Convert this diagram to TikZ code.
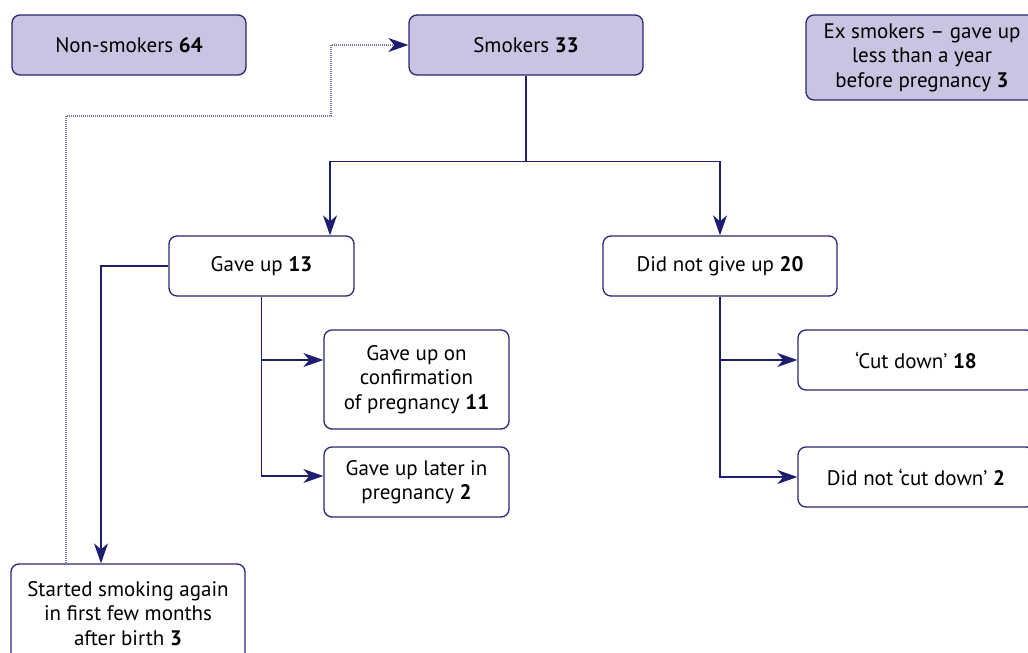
\documentclass[tikz,border=0pt]{standalone}
\usepackage{fontspec}
\setmainfont{PT Sans}
\usetikzlibrary{arrows.meta,calc}
\definecolor{navy}{RGB}{30,30,110}
\definecolor{boxline}{RGB}{40,40,115}
\definecolor{lav}{RGB}{201,196,225}
\definecolor{dotc}{RGB}{120,120,175}
\tikzset{
  box/.style={draw=boxline,line width=1.3pt,rounded corners=8pt,align=center,
    font=\fontsize{21}{24.5}\selectfont,inner sep=0pt},
  fillbox/.style={box,fill=lav},
  arr/.style={draw=navy,line width=1.3pt,-{Stealth[length=20pt,width=14pt,inset=6pt]}},
  dotarr/.style={draw=dotc,line width=1.1pt,dash pattern=on 1pt off 1pt,-{Stealth[length=20pt,width=14pt,inset=6pt,color=navy,fill=navy]}}
}
\begin{document}
\begin{tikzpicture}[x=1pt,y=-1pt]
\useasboundingbox (0,0) rectangle (1028,653);
\clip (0,0) rectangle (1028,653);
\fill[white] (0,0) rectangle (1028,653);
\node[fillbox,minimum width=234pt,minimum height=60pt] (nons) at (129,45) {Non-smokers \textbf{64}};
\node[fillbox,minimum width=234pt,minimum height=60pt] (smk) at (526,45) {Smokers \textbf{33}};
\node[fillbox,minimum width=232pt,minimum height=85pt] (ex) at (922,57.5) {Ex smokers – gave up\\less than a year\\before pregnancy \textbf{3}};
\node[box,minimum width=185pt,minimum height=60pt] (gu) at (261.5,266) {Gave up \textbf{13}};
\node[box,minimum width=234pt,minimum height=60pt] (dngu) at (720,266) {Did not give up \textbf{20}};
\node[box,minimum width=185pt,minimum height=99pt] (conf) at (416.5,379.5) {Gave up on\\confirmation\\of pregnancy \textbf{11}};
\node[box,minimum width=185pt,minimum height=70pt] (later) at (416.5,482) {Gave up later in\\pregnancy \textbf{2}};
\node[box,minimum width=236pt,minimum height=60pt] (cut) at (916,360) {‘Cut down’ \textbf{18}};
\node[box,minimum width=236pt,minimum height=60pt] (notcut) at (916,477) {Did not ‘cut down’ \textbf{2}};
\node[box,minimum width=234pt,minimum height=99pt] (again) at (128,613.5) {Started smoking again\\in first few months\\after birth \textbf{3}};
\coordinate (db) at (331,116);
\draw[arr] (smk.south) -- ++(0,86) -| ([xshift=68.5pt]gu.north);
\draw[arr] (smk.south) -- ++(0,86) -| (dngu.north);
\draw[arr] (gu.south) |- ([yshift=19.5pt]conf.west);
\draw[arr] (gu.south) |- ([yshift=6pt]later.west);
\draw[arr] (dngu.south) |- (cut.west);
\draw[arr] (dngu.south) |- (notcut.west);
\draw[arr] (gu.west) -| ([xshift=-27pt]again.north);
\draw[dotarr] ([xshift=-62pt]again.north) |- (db) |- (smk.west);
\end{tikzpicture}
\end{document}
